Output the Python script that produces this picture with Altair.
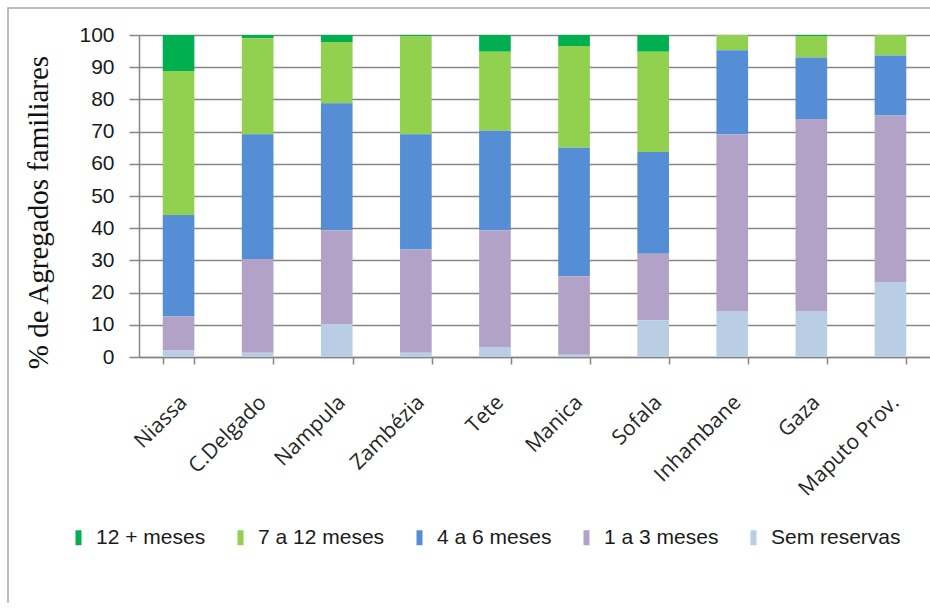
import altair as alt
import pandas as pd

# ---- data ----
categories = ["Niassa", "C.Delgado", "Nampula", "Zambézia", "Tete",
              "Manica", "Sofala", "Inhambane", "Gaza", "Maputo Prov."]
series = ["12 + meses", "7 a 12 meses", "4 a 6 meses", "1 a 3 meses", "Sem reservas"]
colors = ["#00b050", "#92d050", "#558ed5", "#b3a2c7", "#b9cde5"]

v_12mais = [11.2, 1.0, 2.2, 0.4, 5.2, 3.4, 5.2, 0.0, 0.3, 0.0]
v_7a12 = [44.7, 29.8, 19.0, 30.4, 24.5, 31.6, 31.1, 4.7, 6.7, 6.4]
v_4a6 = [31.5, 38.8, 39.4, 35.8, 30.9, 39.9, 31.6, 26.2, 19.1, 18.6]
v_1a3 = [10.6, 29.1, 29.2, 32.1, 36.3, 24.4, 20.7, 54.8, 59.6, 51.7]
v_sem = [2.0, 1.3, 10.2, 1.3, 3.1, 0.7, 11.4, 14.3, 14.3, 23.3]

y_ticks = list(range(0, 101, 10))

values_by_series = {
    "12 + meses": v_12mais,
    "7 a 12 meses": v_7a12,
    "4 a 6 meses": v_4a6,
    "1 a 3 meses": v_1a3,
    "Sem reservas": v_sem,
}
stack_order = {"Sem reservas": 0, "1 a 3 meses": 1, "4 a 6 meses": 2,
               "7 a 12 meses": 3, "12 + meses": 4}

rows = []
for s in series:
    for c, v in zip(categories, values_by_series[s]):
        rows.append({"Provincia": c, "Reserva": s, "Valor": v, "ordem": stack_order[s]})
df = pd.DataFrame(rows)

GRAY = "#868686"

bars = alt.Chart(df).mark_bar().encode(
    x=alt.X(
        "Provincia:N",
        sort=categories,
        scale=alt.Scale(paddingInner=0.6, paddingOuter=0.3),
        axis=alt.Axis(
            title=None,
            labelAngle=-45,
            labelAlign="right",
            labelBaseline="middle",
            labelFont="Open Sans",
            labelFontSize=21,
            labelColor="#262626",
            labelPadding=35,
            labelOffset=5,
            tickBand="extent",
            tickSize=7,
            tickColor=GRAY,
            tickWidth=1.5,
            domainColor=GRAY,
            domainWidth=1.5,
            grid=False,
        ),
    ),
    y=alt.Y(
        "Valor:Q",
        stack="zero",
        scale=alt.Scale(domain=[0, 100], nice=False),
        axis=alt.Axis(
            values=y_ticks,
            title="% de Agregados familiares",
            titleFont="Liberation Serif",
            titleFontSize=29,
            titleFontWeight="normal",
            titleColor="#111111",
            titleAngle=270,
            titleAlign="center",
            titleBaseline="alphabetic",
            titleX=-92,
            titleY=177,
            labelFont="Liberation Sans",
            labelFontSize=21,
            labelColor="#1a1a1a",
            labelPadding=15,
            tickSize=10,
            tickColor=GRAY,
            tickWidth=1.5,
            domainColor=GRAY,
            domainWidth=1.5,
            grid=True,
            gridColor=GRAY,
            gridWidth=1.5,
        ),
    ),
    color=alt.Color(
        "Reserva:N",
        scale=alt.Scale(domain=series, range=colors),
        legend=alt.Legend(
            title=None,
            orient="none",
            direction="horizontal",
            legendX=-71,
            legendY=492,
            symbolType="M-0.4,-1H0.4V1H-0.4Z",
            symbolSize=225,
            symbolStrokeWidth=0,
            symbolOpacity=1,
            labelFont="Liberation Sans",
            labelFontSize=21,
            labelColor="#1a1a1a",
            labelOffset=7,
            columnPadding=24,
        ),
    ),
    order=alt.Order("ordem:Q"),
)

frame = alt.Chart(pd.DataFrame({"k": [0]})).mark_rect(
    filled=False, stroke="#a6a6a6", strokeWidth=1.5
).encode(
    x=alt.value(-131), x2=alt.value(900),
    y=alt.value(-27), y2=alt.value(700),
)

chart = alt.layer(frame, bars).properties(
    width=791,
    height=322,
    autosize=alt.AutoSizeParams(type="none"),
    padding={"left": 139, "top": 35, "right": 0, "bottom": 246},
    background="white",
).configure_view(stroke=None)

chart.save("out.html", embed_options={"renderer": "svg", "actions": False})
